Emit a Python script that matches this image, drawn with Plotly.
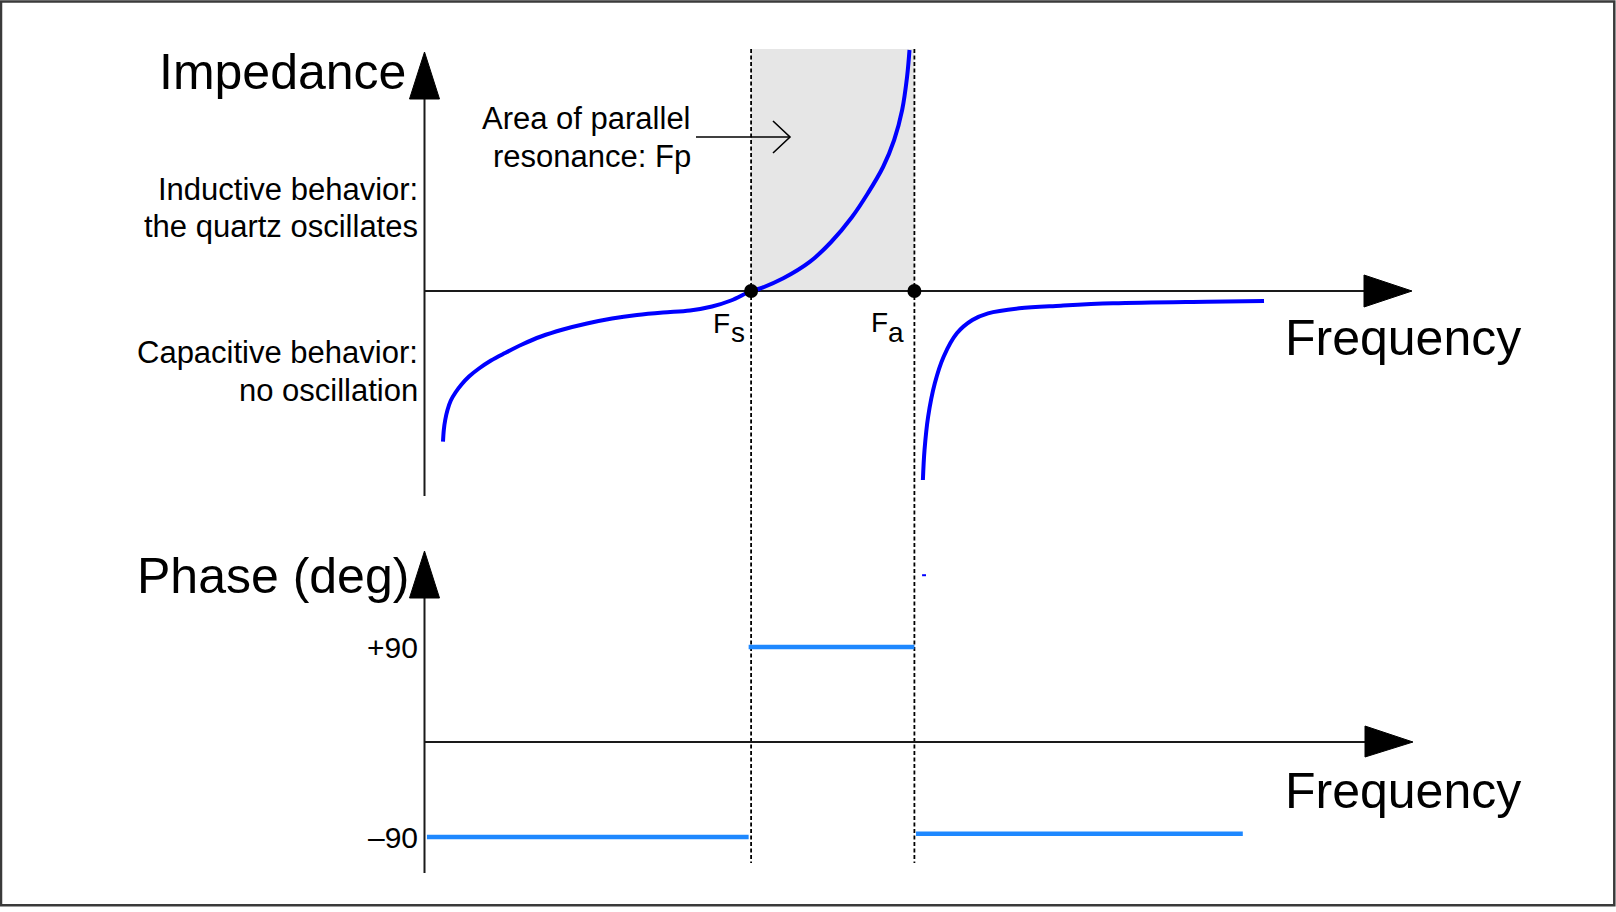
import plotly.graph_objects as go

# ---------------- data (arbitrary units; Fs = 2, Fa = 3) ----------------
FS, FA = 2.0, 3.0

# Impedance (reactance) – branch from low frequency up to Fa
imp_freq_1 = [0.1133, 0.1182, 0.1268, 0.1408, 0.1611, 0.1898, 0.2266, 0.2725, 0.3337,
              0.4072, 0.4930, 0.5971, 0.7134, 0.8481, 0.9951, 1.1482, 1.3013, 1.4605,
              1.6258, 1.7606, 1.8769, 2.0, 2.0545, 2.197, 2.361, 2.490, 2.618, 2.716,
              2.808, 2.876, 2.925, 2.955, 2.970]
imp_val_1 = [-3.014, -2.78, -2.58, -2.38, -2.19, -2.03, -1.87, -1.71, -1.55,
             -1.39, -1.24, -1.07, -0.91, -0.77, -0.65, -0.55, -0.48, -0.43,
             -0.39, -0.31, -0.19, 0.0, 0.05, 0.254, 0.586, 0.98, 1.48, 1.96,
             2.48, 3.02, 3.62, 4.28, 4.82]

# Impedance – branch above Fa
imp_freq_2 = [3.052, 3.062, 3.084, 3.125, 3.179, 3.260, 3.355, 3.451, 3.642, 3.897,
              4.216, 4.791, 5.141]
imp_val_2 = [-3.78, -3.18, -2.514, -1.846, -1.314, -0.846, -0.58, -0.446, -0.346, -0.294,
             -0.246, -0.214, -0.20]

# Phase (deg) segments
phase_freq_1 = [0.015, 1.985]
phase_val_1 = [-90, -90]
phase_freq_2 = [1.985, 3.0]
phase_val_2 = [90, 90]
phase_freq_3 = [3.01, 5.011]
phase_val_3 = [-87, -87]
artifact_freq = [3.047, 3.071]
artifact_val = [158, 158]

phase_ticks = [90, -90]
phase_tick_text = ["+90", "\u201390"]

# ---------------- geometry / scales ----------------
W, H = 1616, 912
X0_PX, PX_PER_F = 424.5, 163.3
Y0_IMP_PX, PX_PER_IMP = 291.0, 50.0
Y0_PH_PX, PX_PER_DEG = 742.0, 95.0 / 90.0

def fx(px):
    return (px - X0_PX) / PX_PER_F

def fy(py):
    return (Y0_IMP_PX - py) / PX_PER_IMP

def fp(py):
    return (Y0_PH_PX - py) / PX_PER_DEG

FONT = "Liberation Sans, Arial, sans-serif"
CURVE_BLUE = "#0000ff"
PHASE_BLUE = "#1e88ff"
AX = "#1a1a1a"

fig = go.Figure()

def line(xs, ys, color, width, yaxis="y", shape="linear"):
    fig.add_trace(go.Scatter(x=xs, y=ys, mode="lines", yaxis=yaxis,
                             line=dict(color=color, width=width, shape=shape),
                             hoverinfo="skip", showlegend=False))

def tri(xs, ys, yaxis="y"):
    fig.add_trace(go.Scatter(x=xs + [xs[0]], y=ys + [ys[0]], mode="lines", fill="toself",
                             fillcolor="black", yaxis=yaxis,
                             line=dict(color="black", width=1),
                             hoverinfo="skip", showlegend=False))

# ---- impedance axes ----
hw = 15 / PX_PER_F
line([0, 0], [fy(496), fy(99)], AX, 2)
tri([-hw, hw, 0], [fy(99), fy(99), fy(52)])
line([0, fx(1364)], [0, 0], AX, 2)
tri([fx(1364), fx(1364), fx(1412)], [fy(275), fy(307), fy(291)])

# ---- phase axes ----
line([0, 0], [fp(873), fp(598)], AX, 2, "y2")
tri([-hw, hw, 0], [fp(598), fp(598), fp(551)], "y2")
line([0, fx(1365)], [0, 0], AX, 2.2, "y2")
tri([fx(1365), fx(1365), fx(1413)], [fp(726), fp(757), fp(742)], "y2")

# ---- annotation arrow (Area of parallel resonance) ----
line([fx(696), fx(790)], [fy(137), fy(137)], "black", 1.6)
line([fx(773), fx(790), fx(773)], [fy(121), fy(137), fy(153)], "black", 1.6)

# ---- impedance curves ----
line(imp_freq_1, imp_val_1, CURVE_BLUE, 4, shape="spline")
line(imp_freq_2, imp_val_2, CURVE_BLUE, 4, shape="spline")

# ---- phase curves ----
line(phase_freq_1, phase_val_1, PHASE_BLUE, 4.5, "y2")
line(phase_freq_2, phase_val_2, PHASE_BLUE, 4.5, "y2")
line(phase_freq_3, phase_val_3, PHASE_BLUE, 4.5, "y2")
line(artifact_freq, artifact_val, CURVE_BLUE, 2, "y2")

# ---- Fs / Fa points ----
fig.add_trace(go.Scatter(x=[FS, FA], y=[0, 0], mode="markers",
                         marker=dict(color="black", size=14),
                         hoverinfo="skip", showlegend=False))

# ---- shapes: shaded area + dashed lines ----
fig.add_shape(type="rect", xref="x", yref="y", x0=FS, x1=FA, y0=0, y1=fy(49),
              fillcolor="#e6e6e6", line=dict(width=0), layer="below")
for xv in (FS, FA):
    fig.add_shape(type="line", xref="x", yref="y", x0=xv, x1=xv, y0=fy(49), y1=fy(863),
                  line=dict(color="black", width=1.8, dash="4px,2.5px"), layer="below")

# outer frame
fig.add_shape(type="rect", xref="paper", yref="paper",
              x0=1 / W, x1=1614.3 / W, y0=1 - 905.3 / H, y1=1 - 1.5 / H,
              line=dict(color="#3a3a3a", width=2.5), fillcolor="rgba(0,0,0,0)")

# ---- text ----
def label(text, x_px, baseline_px, size, anchor):
    yc = baseline_px - 0.3465 * size
    fig.add_annotation(text=text, x=x_px / W, y=1 - yc / H, xref="paper", yref="paper",
                       xanchor=anchor, yanchor="middle", showarrow=False,
                       borderpad=0, borderwidth=0,
                       font=dict(size=size, family=FONT, color="black"))

label("Impedance", 406, 89, 50, "right")
label("Phase (deg)", 409, 593, 50, "right")
label("Frequency", 1285, 355, 50, "left")
label("Frequency", 1285, 808, 50, "left")
label("Inductive behavior:", 418, 200, 31, "right")
label("the quartz oscillates", 418, 237, 31, "right")
label("Capacitive behavior:", 418, 363, 31, "right")
label("no oscillation", 418, 401, 31, "right")
label("Area of parallel", 691, 129, 31, "right")
label("resonance: Fp", 691, 167, 31, "right")
for val, txt in zip(phase_ticks, phase_tick_text):
    label(txt, 418, (Y0_PH_PX - val * PX_PER_DEG) + 10.5, 30, "right")
label("F", 713, 333, 28, "left")
label("s", 731, 342, 28, "left")
label("F", 871, 332, 28, "left")
label("a", 888, 342, 28, "left")

fig.update_layout(
    width=W, height=H, autosize=False,
    margin=dict(l=0, r=0, t=0, b=0),
    paper_bgcolor="white", plot_bgcolor="rgba(0,0,0,0)",
    showlegend=False, hovermode=False,
    xaxis=dict(range=[fx(0), fx(W)], visible=False, fixedrange=True),
    yaxis=dict(range=[fy(H), fy(0)], visible=False, fixedrange=True),
    yaxis2=dict(range=[fp(H), fp(0)], visible=False, overlaying="y", fixedrange=True),
)

fig.write_html("out.html", config={"displayModeBar": False},
               post_script="document.body.style.margin='0';document.body.style.overflow='hidden';")
